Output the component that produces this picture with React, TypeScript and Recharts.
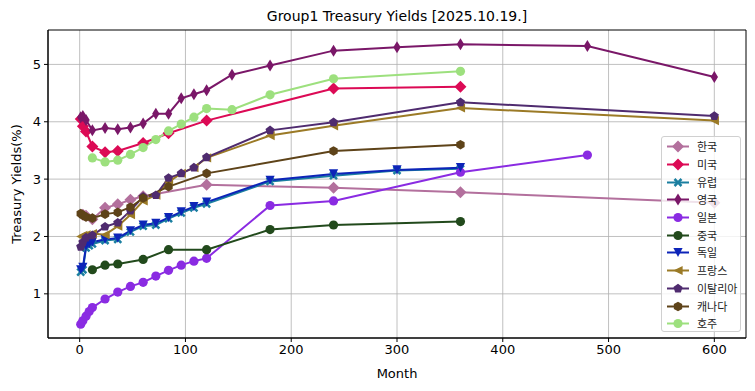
import React from 'react';
import { LineChart, Line, XAxis, YAxis, CartesianGrid, Label, ReferenceArea } from 'recharts';

const xTicks = [0, 100, 200, 300, 400, 500, 600];
const yTicks = [1, 2, 3, 4, 5];
const xDomain = [-29.95, 629.95];
const yDomain = [0.23, 5.6];

const koreaMonths = [3, 6, 12, 24, 36, 48, 60, 120, 240, 360, 600];
const koreaYields = [2.38, 2.36, 2.3, 2.5, 2.56, 2.64, 2.7, 2.9, 2.85, 2.77, 2.59];

const usMonths = [1, 3, 6, 12, 24, 36, 60, 84, 120, 240, 360];
const usYields = [4.05, 3.92, 3.83, 3.57, 3.47, 3.49, 3.63, 3.8, 4.02, 4.58, 4.61];

const euMonths = [1, 3, 6, 9, 12, 24, 36, 48, 60, 72, 84, 96, 108, 120, 180, 240, 300, 360];
const euYields = [1.38, 1.42, 1.8, 1.84, 1.87, 1.93, 1.95, 2.08, 2.18, 2.2, 2.31, 2.41, 2.5, 2.57, 2.96, 3.06, 3.15, 3.18];

const ukMonths = [1, 3, 6, 12, 24, 36, 48, 60, 72, 84, 96, 108, 120, 144, 180, 240, 300, 360, 480, 600];
const ukYields = [4.08, 4.1, 4.03, 3.85, 3.89, 3.87, 3.9, 3.97, 4.14, 4.14, 4.41, 4.48, 4.55, 4.82, 4.98, 5.24, 5.3, 5.35, 5.32, 4.78];

const japanMonths = [1, 3, 6, 9, 12, 24, 36, 48, 60, 72, 84, 96, 108, 120, 180, 240, 360, 480];
const japanYields = [0.47, 0.53, 0.61, 0.69, 0.76, 0.91, 1.03, 1.13, 1.2, 1.31, 1.41, 1.5, 1.57, 1.62, 2.54, 2.62, 3.12, 3.42];

const chinaMonths = [12, 24, 36, 60, 84, 120, 180, 240, 360];
const chinaYields = [1.42, 1.5, 1.52, 1.6, 1.77, 1.77, 2.12, 2.2, 2.26];

const germanyMonths = [1, 3, 6, 9, 12, 24, 36, 48, 60, 72, 84, 96, 108, 120, 180, 240, 300, 360];
const germanyYields = [1.42, 1.46, 1.83, 1.87, 1.9, 1.95, 1.97, 2.1, 2.2, 2.23, 2.33, 2.43, 2.52, 2.6, 2.98, 3.09, 3.16, 3.2];

const franceMonths = [1, 3, 6, 12, 24, 36, 48, 60, 72, 84, 96, 108, 120, 180, 240, 360, 600];
const franceYields = [2.0, 2.02, 2.03, 2.05, 2.03, 2.18, 2.38, 2.62, 2.72, 2.95, 3.1, 3.2, 3.37, 3.76, 3.93, 4.24, 4.02];

const italyMonths = [1, 3, 6, 12, 24, 36, 48, 60, 72, 84, 96, 108, 120, 180, 240, 360, 600];
const italyYields = [1.82, 1.9, 1.98, 2.02, 2.17, 2.24, 2.45, 2.69, 2.72, 3.02, 3.1, 3.2, 3.38, 3.85, 3.99, 4.34, 4.1];

const canadaMonths = [1, 3, 6, 12, 24, 36, 48, 60, 84, 120, 240, 360];
const canadaYields = [2.4, 2.37, 2.34, 2.32, 2.39, 2.42, 2.51, 2.67, 2.87, 3.1, 3.49, 3.6];

const australiaMonths = [12, 24, 36, 48, 60, 72, 84, 96, 108, 120, 144, 180, 240, 360];
const australiaYields = [3.37, 3.3, 3.33, 3.43, 3.55, 3.69, 3.84, 3.96, 4.08, 4.23, 4.21, 4.47, 4.75, 4.88];

type Shape = 'D' | 'd' | 'X' | 'o' | 'v' | '<' | 'p' | 'h';

const series: { name: string; color: string; shape: Shape; months: number[]; yields: number[] }[] = [
  { name: '한국', color: '#b3709d', shape: 'D', months: koreaMonths, yields: koreaYields },
  { name: '미국', color: '#dc0a55', shape: 'D', months: usMonths, yields: usYields },
  { name: '유럽', color: '#1b7fa0', shape: 'X', months: euMonths, yields: euYields },
  { name: '영국', color: '#7a1768', shape: 'd', months: ukMonths, yields: ukYields },
  { name: '일본', color: '#8a2be2', shape: 'o', months: japanMonths, yields: japanYields },
  { name: '중국', color: '#224a1c', shape: 'o', months: chinaMonths, yields: chinaYields },
  { name: '독일', color: '#0d24b8', shape: 'v', months: germanyMonths, yields: germanyYields },
  { name: '프랑스', color: '#9b7a26', shape: '<', months: franceMonths, yields: franceYields },
  { name: '이탈리아', color: '#4f2b6f', shape: 'p', months: italyMonths, yields: italyYields },
  { name: '캐나다', color: '#5e4319', shape: 'h', months: canadaMonths, yields: canadaYields },
  { name: '호주', color: '#9de07e', shape: 'o', months: australiaMonths, yields: australiaYields },
];

const poly = (cx: number, cy: number, r: number, n: number, start: number) => {
  const pts: string[] = [];
  for (let i = 0; i < n; i++) {
    const a = start + (i * 2 * Math.PI) / n;
    pts.push(`${cx + r * Math.cos(a)},${cy + r * Math.sin(a)}`);
  }
  return pts.join(' ');
};

const Marker = ({ shape, cx, cy, color }: { shape: Shape; cx: number; cy: number; color: string }) => {
  switch (shape) {
    case 'D':
      return <polygon points={`${cx},${cy - 6} ${cx + 6},${cy} ${cx},${cy + 6} ${cx - 6},${cy}`} fill={color} />;
    case 'd':
      return <polygon points={`${cx},${cy - 6} ${cx + 3.7},${cy} ${cx},${cy + 6} ${cx - 3.7},${cy}`} fill={color} />;
    case 'v':
      return <polygon points={`${cx},${cy + 4.6} ${cx - 4.6},${cy - 4.6} ${cx + 4.6},${cy - 4.6}`} fill={color} />;
    case '<':
      return <polygon points={`${cx - 4.6},${cy} ${cx + 4.6},${cy - 4.6} ${cx + 4.6},${cy + 4.6}`} fill={color} />;
    case 'p':
      return <polygon points={poly(cx, cy, 4.8, 5, -Math.PI / 2)} fill={color} />;
    case 'h':
      return <polygon points={poly(cx, cy, 4.8, 6, -Math.PI / 2)} fill={color} />;
    case 'X': {
      const a = 4.4, b = 1.8;
      const p = [
        [-a + b, -a], [0, -b], [a - b, -a], [a, -a + b], [b, 0], [a, a - b],
        [a - b, a], [0, b], [-a + b, a], [-a, a - b], [-b, 0], [-a, -a + b],
      ].map(([x, y]) => `${cx + x},${cy + y}`).join(' ');
      return <polygon points={p} fill={color} />;
    }
    default:
      return <circle cx={cx} cy={cy} r={4.6} fill={color} />;
  }
};

const LegendBox = () => (
  <div
    style={{
      position: 'absolute',
      left: 661,
      top: 136,
      width: 80,
      height: 196,
      border: '1px solid #d0d0d0',
      borderRadius: 3,
      background: 'rgba(255,255,255,0.8)',
      boxSizing: 'border-box',
      paddingTop: 1,
    }}
  >
    {series.map((s) => (
      <div key={s.name} style={{ height: 17.7, display: 'flex', alignItems: 'center' }}>
        <svg width={32} height={17} style={{ flex: 'none' }}>
          <line x1={5} x2={27} y1={8.5} y2={8.5} stroke={s.color} strokeWidth={2} />
          <Marker shape={s.shape} cx={16} cy={8.5} color={s.color} />
        </svg>
        <span style={{ fontFamily: '"Noto Sans CJK KR", sans-serif', fontSize: 11, color: '#222', marginLeft: 3, lineHeight: '17px' }}>
          {s.name}
        </span>
      </div>
    ))}
  </div>
);

const App = () => {
  const tickStyle = { fontFamily: 'DejaVu Sans, sans-serif', fontSize: 13, fill: '#000' };
  return (
    <div style={{ position: 'absolute', left: 0, top: 0, width: 755, height: 391, background: '#fff' }}>
      <div
        style={{
          position: 'absolute',
          left: 48,
          width: 698,
          top: 8,
          textAlign: 'center',
          fontFamily: 'DejaVu Sans, sans-serif',
          fontSize: 14,
          color: '#000',
        }}
      >
        Group1 Treasury Yields [2025.10.19.]
      </div>
      <LineChart width={755} height={391} margin={{ top: 30, right: 9, bottom: 0, left: 0 }}>
        <CartesianGrid stroke="#b0b0b0" strokeWidth={0.8} horizontalValues={yTicks} verticalValues={xTicks} />
        <XAxis
          dataKey="m"
          type="number"
          domain={xDomain}
          ticks={xTicks}
          allowDataOverflow
          height={53}
          tickSize={4}
          tickMargin={3}
          stroke="#000"
          tick={tickStyle}
        >
          <Label value="Month" position="insideTop" offset={31} style={{ fontFamily: 'DejaVu Sans, sans-serif', fontSize: 13, fill: '#000' }} />
        </XAxis>
        <YAxis
          type="number"
          domain={yDomain}
          ticks={yTicks}
          allowDataOverflow
          width={48}
          tickSize={4}
          tickMargin={3}
          stroke="#000"
          tick={tickStyle}
        >
          <Label
            content={({ viewBox }: any) => {
              const cy = viewBox.y + viewBox.height / 2;
              return (
                <text
                  x={21}
                  y={cy}
                  transform={`rotate(-90 21 ${cy})`}
                  textAnchor="middle"
                  style={{ fontFamily: 'DejaVu Sans, sans-serif', fontSize: 13, fill: '#000' }}
                >
                  Treasury Yields(%)
                </text>
              );
            }}
          />
        </YAxis>
        {series.map((s) => (
          <Line
            key={s.name}
            data={s.months.map((m, i) => ({ m, y: s.yields[i] }))}
            dataKey="y"
            name={s.name}
            stroke={s.color}
            strokeWidth={2}
            isAnimationActive={false}
            activeDot={false}
            dot={(p: any) => <Marker key={`${s.name}-${p.index}`} shape={s.shape} cx={p.cx} cy={p.cy} color={s.color} />}
          />
        ))}
        <ReferenceArea x1={xDomain[0]} x2={xDomain[1]} y1={yDomain[0]} y2={yDomain[1]} fill="none" stroke="#000" strokeWidth={1} />
      </LineChart>
      <LegendBox />
    </div>
  );
};

export default App;
